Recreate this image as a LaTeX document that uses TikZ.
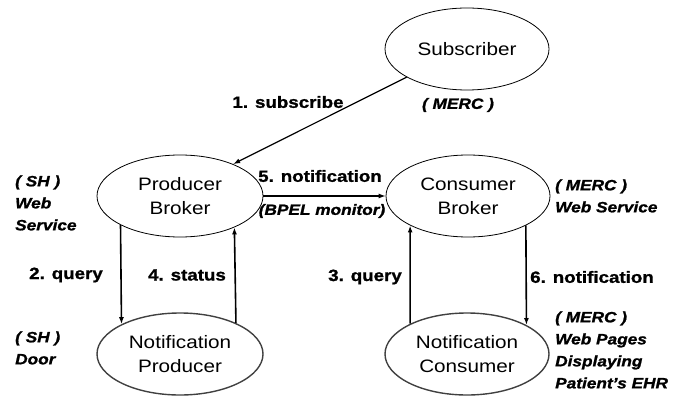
\documentclass[tikz,border=0pt]{standalone}
\usepackage{fontspec}
\setmainfont{Liberation Sans}[FakeStretch=1.15,BoldFeatures={FakeBold=1.2},BoldItalicFeatures={FakeBold=1.2}]
\usetikzlibrary{shapes.geometric,arrows.meta}
\begin{document}
\begin{tikzpicture}[x=1pt,y=-1pt,
  party/.style={ellipse,draw=black,line width=0.8pt,minimum width=166pt,minimum height=82pt,
    inner sep=0pt,align=center,font=\fontsize{18}{24}\selectfont},
  endpoint/.style={party,draw=black!75,line width=1.4pt},
  msg/.style={-{Latex[length=7pt,width=5pt]},line width=1.6pt},
  steplabel/.style={font=\fontsize{16.3}{20}\selectfont\bfseries,inner sep=0pt},
  rolelabel/.style={font=\fontsize{15}{22}\selectfont\bfseries\itshape,inner sep=0pt,align=left}]
\useasboundingbox (0,0) rectangle (676,398);

% parties
\node[party,minimum width=164pt] (sub) at (467,49) {Subscriber};
\node[party] (pb) at (180,196) {Producer\\Broker};
\node[party,minimum width=164pt] (cb) at (468,196) {Consumer\\Broker};
\node[endpoint] (np) at (180,354) {Notification\\Producer};
\node[endpoint,minimum width=164pt] (nc) at (467,354) {Notification\\Consumer};

% messages
\draw[msg,line width=1.2pt] (sub.205) -- (pb.31);
\draw[msg,line width=1.1pt] (pb.east) -- (cb.west);
\draw[msg] (pb.206.8) -- (np.153.2);
\draw[msg] (np.29.2) -- (pb.330.8);
\draw[msg] (nc.152.6) -- (cb.207.4);
\draw[msg] (cb.333.4) -- (nc.26.6);

% message labels
\node[steplabel] (l1) at (288,102) {1. subscribe};
\node[steplabel] (l5) at (320,176) {5. notification};
\node[rolelabel] (bpel) at (322,211) {(BPEL monitor)};
\node[steplabel] (l2) at (66,275) {2. query};
\node[steplabel] (l4) at (187,275) {4. status};
\node[steplabel] (l3) at (365,277) {3. query};
\node[steplabel,anchor=west] (l6) at (530,277) {6. notification};

% role annotations
\node[rolelabel] (rsub) at (458,105) {( MERC )};
\node[rolelabel,anchor=west] (rpb) at (15,203) {( SH )\\Web\\Service};
\node[rolelabel,anchor=west] (rnp) at (15,348) {( SH )\\Door};
\node[rolelabel,anchor=west] (rcb) at (555,196) {( MERC )\\Web Service};
\node[rolelabel,anchor=west] (rnc) at (555,350) {( MERC )\\Web Pages\\Displaying\\Patient's EHR};
\end{tikzpicture}
\end{document}
